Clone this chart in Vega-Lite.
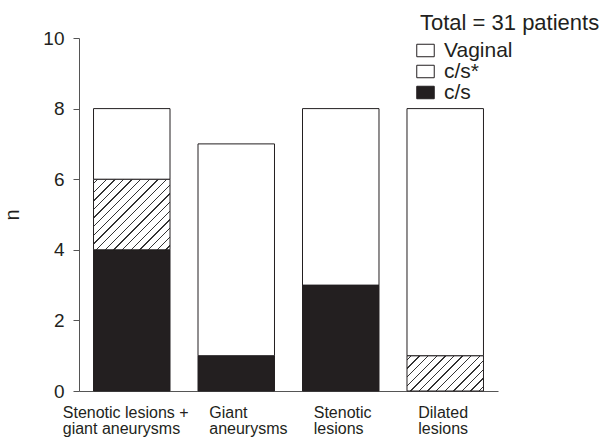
{
  "$schema": "https://vega.github.io/schema/vega-lite/v6.json",
  "width": 419,
  "height": 353,
  "autosize": {"type": "none"},
  "padding": {"left": 79, "top": 38, "right": 102, "bottom": 46},
  "background": "white",
  "config": {
    "font": "Liberation Sans",
    "view": {"stroke": null},
    "axis": {"grid": false, "labelColor": "#231f20", "titleColor": "#231f20", "domainColor": "#555555", "tickColor": "#555555"}
  },
  "data": {
    "values": [
      {"group": "Stenotic lesions + giant aneurysms", "type": "c/s", "n": 4, "rank": 1},
      {"group": "Stenotic lesions + giant aneurysms", "type": "c/s*", "n": 2, "rank": 2},
      {"group": "Stenotic lesions + giant aneurysms", "type": "Vaginal", "n": 2, "rank": 3},
      {"group": "Giant aneurysms", "type": "c/s", "n": 1, "rank": 1},
      {"group": "Giant aneurysms", "type": "Vaginal", "n": 6, "rank": 3},
      {"group": "Stenotic lesions", "type": "c/s", "n": 3, "rank": 1},
      {"group": "Stenotic lesions", "type": "Vaginal", "n": 5, "rank": 3},
      {"group": "Dilated lesions", "type": "c/s*", "n": 1, "rank": 2},
      {"group": "Dilated lesions", "type": "Vaginal", "n": 7, "rank": 3}
    ]
  },
  "mark": {"type": "bar", "stroke": "#231f20", "strokeWidth": 1},
  "encoding": {
    "x": {
      "field": "group",
      "type": "nominal",
      "sort": ["Stenotic lesions + giant aneurysms", "Giant aneurysms", "Stenotic lesions", "Dilated lesions"],
      "scale": {"paddingInner": 0.268, "paddingOuter": 0.139},
      "axis": {
        "title": null,
        "labelAngle": 0,
        "ticks": false,
        "tickSize": 0,
        "labelPadding": 13,
        "labelFontSize": 16,
        "labelLineHeight": 16,
        "labelAlign": "left",
        "labelBaseline": "top",
        "labelOffset": {"condition": {"test": "datum.value === 'Stenotic lesions + giant aneurysms'", "value": -69}, "value": -27},
        "labelExpr": "datum.value === 'Stenotic lesions + giant aneurysms' ? ['Stenotic lesions +', 'giant aneurysms'] : split(datum.value, ' ')",
        "labelLimit": 300
      }
    },
    "y": {
      "field": "n",
      "type": "quantitative",
      "stack": "zero",
      "scale": {"domain": [0, 10], "nice": false},
      "axis": {
        "title": "n",
        "titleFontSize": 20,
        "titleFontWeight": "normal",
        "titlePadding": 20,
        "values": [0, 2, 4, 6, 8, 10],
        "tickSize": 6,
        "labelPadding": 9,
        "labelFontSize": 19
      }
    },
    "order": {"field": "rank", "type": "quantitative"},
    "color": {
      "condition": [
        {
          "test": "datum.type === 'c/s*' && datum.group === 'Dilated lesions'",
          "value": {"gradient": "linear", "x1": 0, "y1": 0, "x2": 1.205, "y2": 0.554, "stops": [
            {"offset": 0, "color": "#ffffff"},
            {"offset": 0.0323, "color": "#ffffff"}, {"offset": 0.0323, "color": "#333333"}, {"offset": 0.0446, "color": "#333333"}, {"offset": 0.0446, "color": "#ffffff"},
            {"offset": 0.1092, "color": "#ffffff"}, {"offset": 0.1092, "color": "#333333"}, {"offset": 0.1215, "color": "#333333"}, {"offset": 0.1215, "color": "#ffffff"},
            {"offset": 0.1862, "color": "#ffffff"}, {"offset": 0.1862, "color": "#333333"}, {"offset": 0.1985, "color": "#333333"}, {"offset": 0.1985, "color": "#ffffff"},
            {"offset": 0.2631, "color": "#ffffff"}, {"offset": 0.2631, "color": "#333333"}, {"offset": 0.2754, "color": "#333333"}, {"offset": 0.2754, "color": "#ffffff"},
            {"offset": 0.3400, "color": "#ffffff"}, {"offset": 0.3400, "color": "#333333"}, {"offset": 0.3523, "color": "#333333"}, {"offset": 0.3523, "color": "#ffffff"},
            {"offset": 0.4169, "color": "#ffffff"}, {"offset": 0.4169, "color": "#333333"}, {"offset": 0.4292, "color": "#333333"}, {"offset": 0.4292, "color": "#ffffff"},
            {"offset": 0.4938, "color": "#ffffff"}, {"offset": 0.4938, "color": "#333333"}, {"offset": 0.5062, "color": "#333333"}, {"offset": 0.5062, "color": "#ffffff"},
            {"offset": 0.5708, "color": "#ffffff"}, {"offset": 0.5708, "color": "#333333"}, {"offset": 0.5831, "color": "#333333"}, {"offset": 0.5831, "color": "#ffffff"},
            {"offset": 0.6477, "color": "#ffffff"}, {"offset": 0.6477, "color": "#333333"}, {"offset": 0.6600, "color": "#333333"}, {"offset": 0.6600, "color": "#ffffff"},
            {"offset": 0.7246, "color": "#ffffff"}, {"offset": 0.7246, "color": "#333333"}, {"offset": 0.7369, "color": "#333333"}, {"offset": 0.7369, "color": "#ffffff"},
            {"offset": 0.8015, "color": "#ffffff"}, {"offset": 0.8015, "color": "#333333"}, {"offset": 0.8138, "color": "#333333"}, {"offset": 0.8138, "color": "#ffffff"},
            {"offset": 0.8785, "color": "#ffffff"}, {"offset": 0.8785, "color": "#333333"}, {"offset": 0.8908, "color": "#333333"}, {"offset": 0.8908, "color": "#ffffff"},
            {"offset": 0.9554, "color": "#ffffff"}, {"offset": 0.9554, "color": "#333333"}, {"offset": 0.9677, "color": "#333333"}, {"offset": 0.9677, "color": "#ffffff"},
            {"offset": 1, "color": "#ffffff"}
          ]}
        },
        {
          "test": "datum.type === 'c/s*'",
          "value": {"gradient": "linear", "x1": 0, "y1": 0, "x2": 1.038, "y2": 0.958, "stops": [
            {"offset": 0, "color": "#ffffff"},
            {"offset": 0.0247, "color": "#ffffff"}, {"offset": 0.0247, "color": "#333333"}, {"offset": 0.0341, "color": "#333333"}, {"offset": 0.0341, "color": "#ffffff"},
            {"offset": 0.0835, "color": "#ffffff"}, {"offset": 0.0835, "color": "#333333"}, {"offset": 0.0929, "color": "#333333"}, {"offset": 0.0929, "color": "#ffffff"},
            {"offset": 0.1424, "color": "#ffffff"}, {"offset": 0.1424, "color": "#333333"}, {"offset": 0.1518, "color": "#333333"}, {"offset": 0.1518, "color": "#ffffff"},
            {"offset": 0.2012, "color": "#ffffff"}, {"offset": 0.2012, "color": "#333333"}, {"offset": 0.2106, "color": "#333333"}, {"offset": 0.2106, "color": "#ffffff"},
            {"offset": 0.2600, "color": "#ffffff"}, {"offset": 0.2600, "color": "#333333"}, {"offset": 0.2694, "color": "#333333"}, {"offset": 0.2694, "color": "#ffffff"},
            {"offset": 0.3188, "color": "#ffffff"}, {"offset": 0.3188, "color": "#333333"}, {"offset": 0.3282, "color": "#333333"}, {"offset": 0.3282, "color": "#ffffff"},
            {"offset": 0.3776, "color": "#ffffff"}, {"offset": 0.3776, "color": "#333333"}, {"offset": 0.3871, "color": "#333333"}, {"offset": 0.3871, "color": "#ffffff"},
            {"offset": 0.4365, "color": "#ffffff"}, {"offset": 0.4365, "color": "#333333"}, {"offset": 0.4459, "color": "#333333"}, {"offset": 0.4459, "color": "#ffffff"},
            {"offset": 0.4953, "color": "#ffffff"}, {"offset": 0.4953, "color": "#333333"}, {"offset": 0.5047, "color": "#333333"}, {"offset": 0.5047, "color": "#ffffff"},
            {"offset": 0.5541, "color": "#ffffff"}, {"offset": 0.5541, "color": "#333333"}, {"offset": 0.5635, "color": "#333333"}, {"offset": 0.5635, "color": "#ffffff"},
            {"offset": 0.6129, "color": "#ffffff"}, {"offset": 0.6129, "color": "#333333"}, {"offset": 0.6224, "color": "#333333"}, {"offset": 0.6224, "color": "#ffffff"},
            {"offset": 0.6718, "color": "#ffffff"}, {"offset": 0.6718, "color": "#333333"}, {"offset": 0.6812, "color": "#333333"}, {"offset": 0.6812, "color": "#ffffff"},
            {"offset": 0.7306, "color": "#ffffff"}, {"offset": 0.7306, "color": "#333333"}, {"offset": 0.7400, "color": "#333333"}, {"offset": 0.7400, "color": "#ffffff"},
            {"offset": 0.7894, "color": "#ffffff"}, {"offset": 0.7894, "color": "#333333"}, {"offset": 0.7988, "color": "#333333"}, {"offset": 0.7988, "color": "#ffffff"},
            {"offset": 0.8482, "color": "#ffffff"}, {"offset": 0.8482, "color": "#333333"}, {"offset": 0.8576, "color": "#333333"}, {"offset": 0.8576, "color": "#ffffff"},
            {"offset": 0.9071, "color": "#ffffff"}, {"offset": 0.9071, "color": "#333333"}, {"offset": 0.9165, "color": "#333333"}, {"offset": 0.9165, "color": "#ffffff"},
            {"offset": 0.9659, "color": "#ffffff"}, {"offset": 0.9659, "color": "#333333"}, {"offset": 0.9753, "color": "#333333"}, {"offset": 0.9753, "color": "#ffffff"},
            {"offset": 1, "color": "#ffffff"}
          ]}
        }
      ],
      "field": "type",
      "type": "nominal",
      "scale": {"domain": ["Vaginal", "c/s*", "c/s"], "range": ["#ffffff", "#ffffff", "#231f20"]},
      "legend": {
        "title": "Total = 31 patients",
        "orient": "none",
        "legendX": 336,
        "legendY": -25,
        "padding": 0,
        "titleFontSize": 22,
        "titleFontWeight": "normal",
        "titleColor": "#231f20",
        "titlePadding": 5,
        "labelFontSize": 21,
        "labelColor": "#231f20",
        "labelOffset": 8,
        "rowPadding": -3,
        "symbolType": "M-1,-0.714L1,-0.714L1,0.714L-1,0.714Z",
        "symbolSize": 306,
        "symbolStrokeColor": "#231f20",
        "symbolStrokeWidth": 1,
        "encode": {
          "symbols": {
            "update": {
              "stroke": {"value": "#231f20"},
              "strokeWidth": {"value": 1}
            }
          },
          "title": {"update": {"dx": {"value": 5}}}
        }
      }
    }
  }
}
